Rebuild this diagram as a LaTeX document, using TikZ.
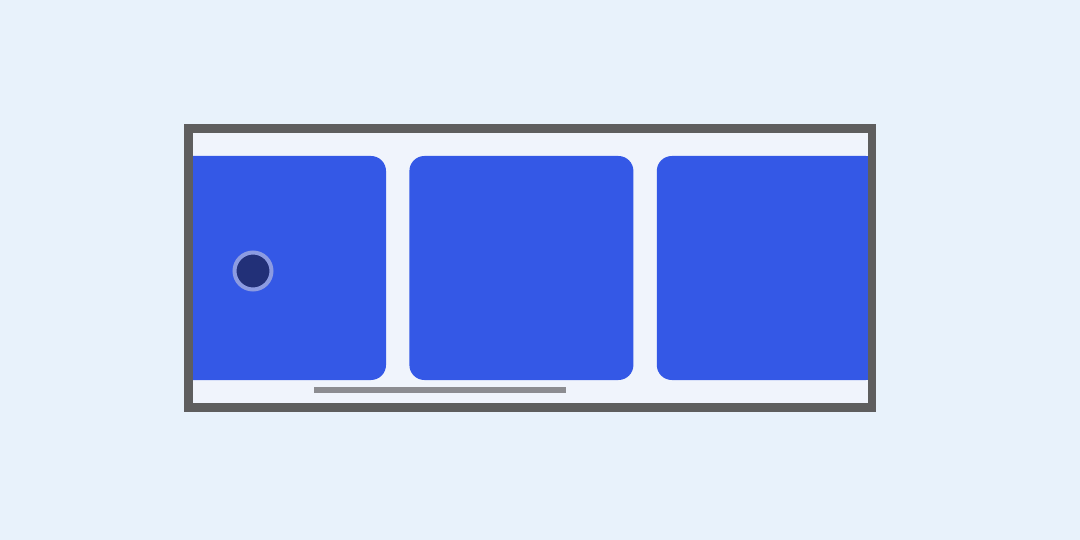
\documentclass[tikz,border=0pt]{standalone}
\usetikzlibrary{positioning}
\usepackage{xcolor}
\definecolor{PageBg}{RGB}{232,242,251}
\definecolor{FrameFill}{RGB}{240,244,252}
\definecolor{FrameGray}{RGB}{94,94,94}
\definecolor{CardBlue}{RGB}{52,88,230}
\definecolor{DotNavy}{RGB}{34,48,120}
\definecolor{DotRing}{RGB}{140,155,225}
\definecolor{BarGray}{RGB}{140,140,145}

\begin{document}
\begin{tikzpicture}[
          x=1pt, y=-1pt,
          node distance=23pt,
          frame/.style={rectangle, fill=FrameFill, minimum width=683.5pt, minimum height=279pt, inner sep=0pt, outer sep=0pt},
          card/.style={rectangle, fill=CardBlue, rounded corners=15pt, minimum width=224pt, minimum height=224pt, inner sep=0pt},
          dot/.style={circle, draw=DotRing, line width=4pt, fill=DotNavy, minimum size=37pt, inner sep=0pt},
          bar/.style={rectangle, fill=BarGray, minimum width=252pt, minimum height=6.5pt, inner sep=0pt}
        ]
          \fill[PageBg] (0,0) rectangle (1080,540);
          \useasboundingbox (0,0) rectangle (1080,540);

          \node (frame) [frame] at (530.25,268) {};

          \begin{scope}
            \clip (192.75,132.75) rectangle (867.75,403.25);
            \node (card1) [card] at (274,268) {};
            \node (card2) [card, right=of card1] {};
            \node (card3) [card, right=of card2] {};
          \end{scope}

          \node (dot) [dot] at (253,271) {};
          \node (bar) [bar] at (440,390) {};

          \draw[FrameGray, line width=8.5pt] (frame.north west) rectangle (frame.south east);
        \end{tikzpicture}
\end{document}
